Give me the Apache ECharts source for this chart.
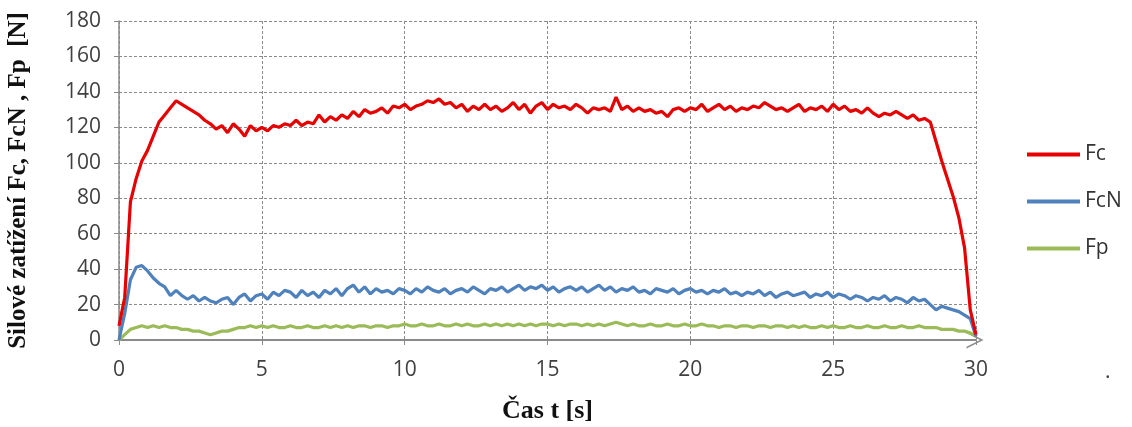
<!DOCTYPE html>
<html>
<head>
<meta charset="utf-8">
<script src="https://cdn.jsdelivr.net/npm/echarts@6/dist/echarts.min.js"></script>
<style>
  html, body { margin: 0; padding: 0; background: #fff; }
  #chart { width: 1132px; height: 427px; }
</style>
</head>
<body>
<div id="chart"></div>
<script>
// time in seconds
const times = [
  0, 0.2, 0.4, 0.6, 0.8, 1, 1.2, 1.4, 1.6, 1.8,
  2, 2.2, 2.4, 2.6, 2.8, 3, 3.2, 3.4, 3.6, 3.8,
  4, 4.2, 4.4, 4.6, 4.8, 5, 5.2, 5.4, 5.6, 5.8,
  6, 6.2, 6.4, 6.6, 6.8, 7, 7.2, 7.4, 7.6, 7.8,
  8, 8.2, 8.4, 8.6, 8.8, 9, 9.2, 9.4, 9.6, 9.8,
  10, 10.2, 10.4, 10.6, 10.8, 11, 11.2, 11.4, 11.6, 11.8,
  12, 12.2, 12.4, 12.6, 12.8, 13, 13.2, 13.4, 13.6, 13.8,
  14, 14.2, 14.4, 14.6, 14.8, 15, 15.2, 15.4, 15.6, 15.8,
  16, 16.2, 16.4, 16.6, 16.8, 17, 17.2, 17.4, 17.6, 17.8,
  18, 18.2, 18.4, 18.6, 18.8, 19, 19.2, 19.4, 19.6, 19.8,
  20, 20.2, 20.4, 20.6, 20.8, 21, 21.2, 21.4, 21.6, 21.8,
  22, 22.2, 22.4, 22.6, 22.8, 23, 23.2, 23.4, 23.6, 23.8,
  24, 24.2, 24.4, 24.6, 24.8, 25, 25.2, 25.4, 25.6, 25.8,
  26, 26.2, 26.4, 26.6, 26.8, 27, 27.2, 27.4, 27.6, 27.8,
  28, 28.2, 28.4, 28.6, 28.8, 29, 29.2, 29.4, 29.6, 29.8,
  30
];

const fc = [
  8, 24, 78, 91, 101, 107, 115, 123, 127, 131,
  135, 133, 131, 129, 127, 124, 122, 119, 121, 117,
  122, 119, 115, 121, 118, 120, 118, 121, 120, 122,
  121, 124, 121, 123, 122, 127, 123, 126, 124, 127,
  125, 129, 126, 130, 128, 129, 131, 128, 132, 131,
  133, 130, 132, 133, 135, 134, 136, 133, 134, 131,
  133, 129, 132, 130, 133, 130, 132, 129, 131, 134,
  130, 133, 128, 132, 134, 130, 133, 131, 132, 130,
  133, 131, 128, 131, 130, 131, 129, 137, 130, 132,
  129, 131, 129, 130, 128, 129, 126, 130, 131, 129,
  131, 130, 133, 129, 131, 133, 130, 132, 129, 131,
  130, 132, 131, 134, 132, 130, 131, 129, 131, 133,
  129, 131, 130, 132, 129, 133, 130, 132, 129, 130,
  128, 131, 128, 126, 128, 127, 129, 127, 125, 127,
  124, 125, 123, 112, 101, 91, 81, 69, 52, 17,
  3
];

const fcn = [
  0, 15, 34, 41, 42, 39, 35, 32, 30, 25,
  28, 25, 23, 25, 22, 24, 22, 21, 23, 24,
  20, 24, 26, 22, 25, 26, 23, 27, 25, 28,
  27, 24, 28, 25, 27, 24, 28, 26, 29, 25,
  29, 31, 27, 30, 26, 29, 27, 28, 26, 29,
  28, 26, 29, 27, 30, 28, 27, 29, 26, 28,
  29, 27, 30, 28, 26, 29, 28, 30, 27, 29,
  31, 28, 30, 29, 31, 28, 30, 27, 29, 30,
  28, 30, 27, 29, 31, 28, 30, 27, 29, 28,
  30, 27, 28, 26, 29, 28, 27, 29, 26, 28,
  29, 27, 28, 26, 28, 27, 29, 26, 27, 25,
  27, 26, 28, 25, 27, 24, 26, 27, 25, 26,
  27, 24, 26, 25, 27, 24, 26, 25, 23, 25,
  24, 22, 24, 23, 25, 22, 24, 23, 21, 24,
  22, 23, 20, 17, 19, 18, 17, 16, 14, 12,
  2
];

const fp = [
  0, 3, 6, 7, 8, 7, 8, 7, 8, 7,
  7, 6, 6, 5, 5, 4, 3, 4, 5, 5,
  6, 7, 7, 8, 7, 8, 7, 8, 7, 7,
  8, 7, 7, 8, 7, 7, 8, 7, 8, 7,
  8, 7, 8, 8, 7, 8, 8, 7, 8, 8,
  9, 8, 8, 9, 8, 8, 9, 8, 8, 9,
  8, 9, 8, 8, 9, 8, 9, 8, 9, 8,
  9, 8, 9, 8, 9, 9, 8, 9, 8, 9,
  9, 8, 9, 8, 9, 8, 9, 10, 9, 8,
  9, 8, 8, 9, 8, 8, 9, 8, 8, 9,
  8, 8, 9, 8, 8, 7, 8, 8, 7, 8,
  8, 7, 8, 8, 7, 8, 8, 7, 8, 7,
  8, 7, 7, 8, 7, 8, 7, 7, 8, 7,
  7, 8, 7, 7, 8, 7, 7, 8, 7, 7,
  8, 7, 7, 7, 6, 6, 6, 5, 5, 4,
  2
];

const seriesNames = ["Fc", "FcN", "Fp"];
const colors = ["#e60000", "#4f81bd", "#9bbb59"];

function pairs(vals) {
  return times.map((t, i) => [t, vals[i]]);
}

let chart = echarts.init(document.getElementById("chart"));

const labelFont = { color: "#404040", fontSize: 21, fontFamily: "Open Sans" };
const gridLine = { show: true, lineStyle: { color: "#8a8a8a", type: [3, 2], width: 1 } };

const options = {
  animation: false,
  color: colors,
  grid: { left: 119, right: 156, top: 21, bottom: 87, outerBoundsMode: "none" },
  legend: {
    orient: "vertical",
    left: 1022,
    top: 139,
    icon: "rect",
    itemWidth: 53,
    itemHeight: 4,
    itemGap: 26,
    textStyle: { color: "#333", fontSize: 21, fontFamily: "Open Sans" },
    data: seriesNames
  },
  xAxis: {
    type: "value",
    min: 0,
    max: 30,
    interval: 5,
    name: "Čas t [s]",
    nameLocation: "middle",
    nameGap: 58,
    nameTextStyle: { fontFamily: "Liberation Serif", fontWeight: "bold", fontSize: 26, color: "#111" },
    axisLine: {
      show: true,
      symbol: ["none", "path://M0,20 L10,0 L20,20 L18,20 L10,4 L2,20 Z"],
      symbolSize: [24, 17],
      symbolOffset: [0, -1],
      lineStyle: { color: "#8a8a8a", width: 2 }
    },
    axisTick: { show: true, length: 5, lineStyle: { color: "#8a8a8a" } },
    axisLabel: Object.assign({ margin: 20 }, labelFont),
    splitLine: gridLine
  },
  yAxis: {
    type: "value",
    min: 0,
    max: 180,
    interval: 20,
    name: "Silové zatížení Fc, FcN , Fp  [N]",
    nameLocation: "middle",
    nameGap: 88,
    nameTextStyle: { fontFamily: "Liberation Serif", fontWeight: "bold", fontSize: 25, color: "#111" },
    axisLine: { show: true, lineStyle: { color: "#8a8a8a", width: 1.5 } },
    axisTick: { show: true, length: 5, lineStyle: { color: "#8a8a8a" } },
    axisLabel: Object.assign({ margin: 18 }, labelFont),
    splitLine: gridLine
  },
  graphic: [
    { type: "text", left: 1105, top: 362, style: { text: ".", fontSize: 21, fill: "#404040", fontFamily: "Open Sans" } }
  ],
  series: [
    { name: "Fc", type: "line", symbol: "none", z: 3, lineStyle: { width: 3.2, color: colors[0] }, data: pairs(fc) },
    { name: "FcN", type: "line", symbol: "none", z: 2, lineStyle: { width: 3.2, color: colors[1] }, data: pairs(fcn) },
    { name: "Fp", type: "line", symbol: "none", z: 1, lineStyle: { width: 3.2, color: colors[2] }, data: pairs(fp) }
  ]
};

chart.setOption(options);
</script>
</body>
</html>
